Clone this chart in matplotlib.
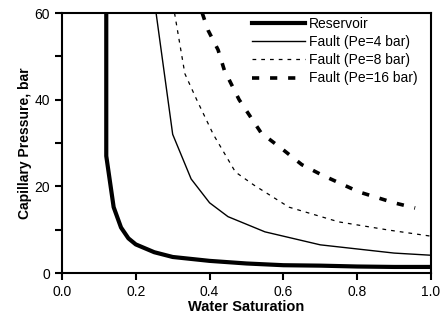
import matplotlib
matplotlib.use("Agg")
import matplotlib.pyplot as plt
from matplotlib.ticker import MultipleLocator

plt.rcParams['font.family'] = ['Liberation Sans', 'DejaVu Sans']

sw_res = [0.12, 0.12, 0.14, 0.16, 0.18, 0.20, 0.25, 0.30, 0.40, 0.50, 0.60, 0.70, 0.80, 0.90, 1.00]
pc_res = [62, 27, 15.2, 10.5, 8.0, 6.6, 4.8, 3.7, 2.8, 2.2, 1.8, 1.7, 1.5, 1.4, 1.4]

sw_f4 = [0.255, 0.30, 0.35, 0.40, 0.45, 0.55, 0.70, 0.90, 1.00]
pc_f4 = [60, 32, 21.7, 16.2, 13, 9.5, 6.5, 4.6, 4.1]

sw_f8 = [0.305, 0.333, 0.365, 0.41, 0.47, 0.52, 0.615, 0.75, 0.886, 1.00]
pc_f8 = [60, 46, 40, 32, 23.3, 20.3, 15.2, 11.8, 9.9, 8.5]

sw_f16 = [0.38, 0.396, 0.423, 0.44, 0.48, 0.54, 0.60, 0.65, 0.705, 0.805, 0.90, 0.957]
pc_f16 = [60, 56, 51.5, 46.8, 40, 32.3, 28.4, 25, 22.6, 18.7, 16.2, 15]

fig = plt.figure(figsize=(4.44, 3.21), dpi=100)
ax = fig.add_axes([0.1396, 0.1495, 0.8311, 0.81])

ax.plot(sw_res, pc_res, color='black', lw=3.0, label='Reservoir', solid_joinstyle='round')
ax.plot(sw_f4, pc_f4, color='black', lw=1.0, label='Fault (Pe=4 bar)')
ax.plot(sw_f8, pc_f8, color='black', lw=0.9, ls=(0, (3, 4)), label='Fault (Pe=8 bar)')
ax.plot(sw_f16, pc_f16, color='black', lw=2.6, ls=(0, (2, 3)), label='Fault (Pe=16 bar)')

ax.set_xlim(0, 1.0)
ax.set_ylim(0, 60)
ax.xaxis.set_major_locator(MultipleLocator(0.2))
ax.yaxis.set_major_locator(MultipleLocator(20))
ax.yaxis.set_minor_locator(MultipleLocator(10))
ax.xaxis.set_major_formatter(matplotlib.ticker.FormatStrFormatter('%.1f'))
ax.tick_params(which='both', direction='out', width=1.5, labelsize=10, color='black')
ax.tick_params(which='major', length=5)
ax.tick_params(which='minor', length=5)
for s in ax.spines.values():
    s.set_linewidth(1.5)

ax.set_xlabel('Water Saturation', fontsize=10.5, fontweight='bold', labelpad=0.5)
ax.set_ylabel('Capillary Pressure, bar', fontsize=10, fontweight='bold', labelpad=2)

ax.legend(loc='upper left', bbox_to_anchor=(0.515, 0.985), frameon=False, fontsize=10,
          handlelength=3.8, handletextpad=0.3, labelspacing=0.3, borderaxespad=0,
          borderpad=0)

fig.savefig('out.png', dpi=100)
